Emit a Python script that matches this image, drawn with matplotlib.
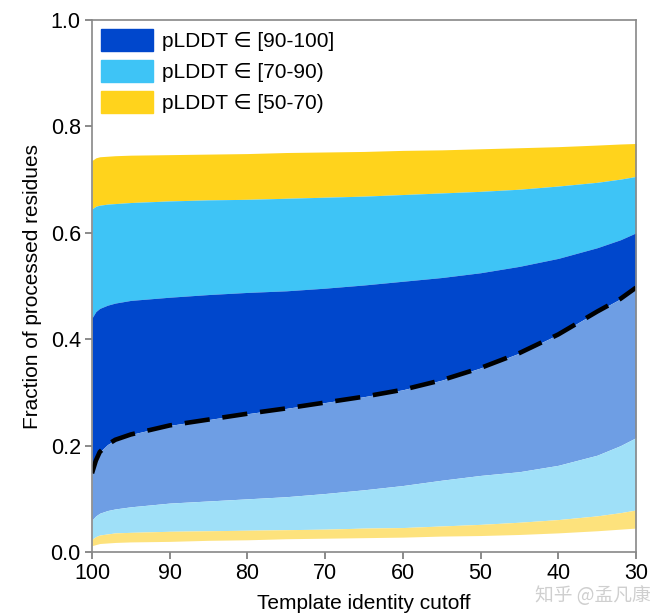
import matplotlib
matplotlib.use("Agg")
import matplotlib.pyplot as plt
from matplotlib.patches import Patch

plt.rcParams['font.family'] = ['Liberation Sans', 'DejaVu Sans']

# template identity cutoff (x axis, inverted)
cutoff = [100, 99.5, 99, 98, 97, 95, 90, 85, 80, 75, 70, 65, 60, 55, 50, 45, 40, 35, 32, 30]

# upper boundaries of the stacked bands (all residues)
top_50_70 = [.736, .741, .743, .744, .745, .746, .747, .748, .749, .751, .752, .753, .755, .756, .758, .760, .762, .765, .767, .768]
top_70_90 = [.645, .650, .652, .654, .655, .657, .660, .662, .663, .665, .667, .669, .672, .675, .678, .682, .688, .695, .701, .706]
top_90_100 = [.440, .452, .458, .464, .468, .473, .479, .484, .488, .491, .496, .502, .509, .516, .525, .537, .552, .572, .587, .600]

# boundaries of the lighter bands (dashed line = template coverage)
template_line = [.148, .172, .188, .202, .211, .221, .238, .249, .260, .270, .281, .292, .305, .323, .346, .374, .409, .452, .476, .497]
tmpl_70_90 = [.060, .068, .073, .078, .081, .085, .092, .096, .100, .104, .110, .117, .125, .135, .144, .151, .163, .182, .200, .215]
tmpl_50_70 = [.024, .029, .032, .034, .036, .037, .039, .040, .041, .042, .043, .045, .046, .049, .052, .056, .061, .068, .074, .079]
tmpl_base = [.012, .014, .016, .017, .018, .019, .020, .022, .023, .025, .026, .027, .028, .030, .031, .033, .036, .040, .043, .045]

labels = ['pLDDT \u2208 [90-100]', 'pLDDT \u2208 [70-90)', 'pLDDT \u2208 [50-70)']

dark_blue = '#0047cc'
light_blue = '#3ec4f6'
yellow = '#ffd31c'
mid_blue = '#6e9ee4'
pale_cyan = '#9fe0f8'
pale_yellow = '#fde27c'

fig = plt.figure(figsize=(6.57, 6.15), dpi=100)
ax = fig.add_axes([0.14, 0.1024, 0.828, 0.8650])

ax.fill_between(cutoff, top_70_90, top_50_70, color=yellow, lw=0)
ax.fill_between(cutoff, top_90_100, top_70_90, color=light_blue, lw=0)
ax.fill_between(cutoff, template_line, top_90_100, color=dark_blue, lw=0)
ax.fill_between(cutoff, tmpl_70_90, template_line, color=mid_blue, lw=0)
ax.fill_between(cutoff, tmpl_50_70, tmpl_70_90, color=pale_cyan, lw=0)
ax.fill_between(cutoff, tmpl_base, tmpl_50_70, color=pale_yellow, lw=0)
ax.plot(cutoff, template_line, color='black', lw=3.3, linestyle=(0, (5.5, 2.8)))

ax.set_xlim(100, 30)
ax.set_ylim(0, 1)
ax.set_xticks([100, 90, 80, 70, 60, 50, 40, 30])
ax.set_yticks([0, 0.2, 0.4, 0.6, 0.8, 1.0])
ax.set_yticklabels(['0.0', '0.2', '0.4', '0.6', '0.8', '1.0'])
ax.tick_params(labelsize=15.5, length=5, width=1.2, color='#777777', pad=3)
for s in ax.spines.values():
    s.set_color('#888888')
    s.set_linewidth(1.2)

ax.set_xlabel('Template identity cutoff', fontsize=15, labelpad=7)
ax.set_ylabel('Fraction of processed residues', fontsize=15, labelpad=6)

handles = [Patch(color=dark_blue), Patch(color=light_blue), Patch(color=yellow)]
ax.legend(handles, labels, loc='upper left', frameon=False, fontsize=15,
          handlelength=2.5, handleheight=1.25, labelspacing=0.42,
          handletextpad=0.4, borderaxespad=0.15, borderpad=0.3)

# watermark
fig.text(0.815, 0.031, '知乎 @孟凡康', fontsize=13.5, color='#cfcfcf',
         family=['Noto Sans CJK SC', 'DejaVu Sans'], ha='left', va='center')

fig.savefig('out.png', dpi=100)
